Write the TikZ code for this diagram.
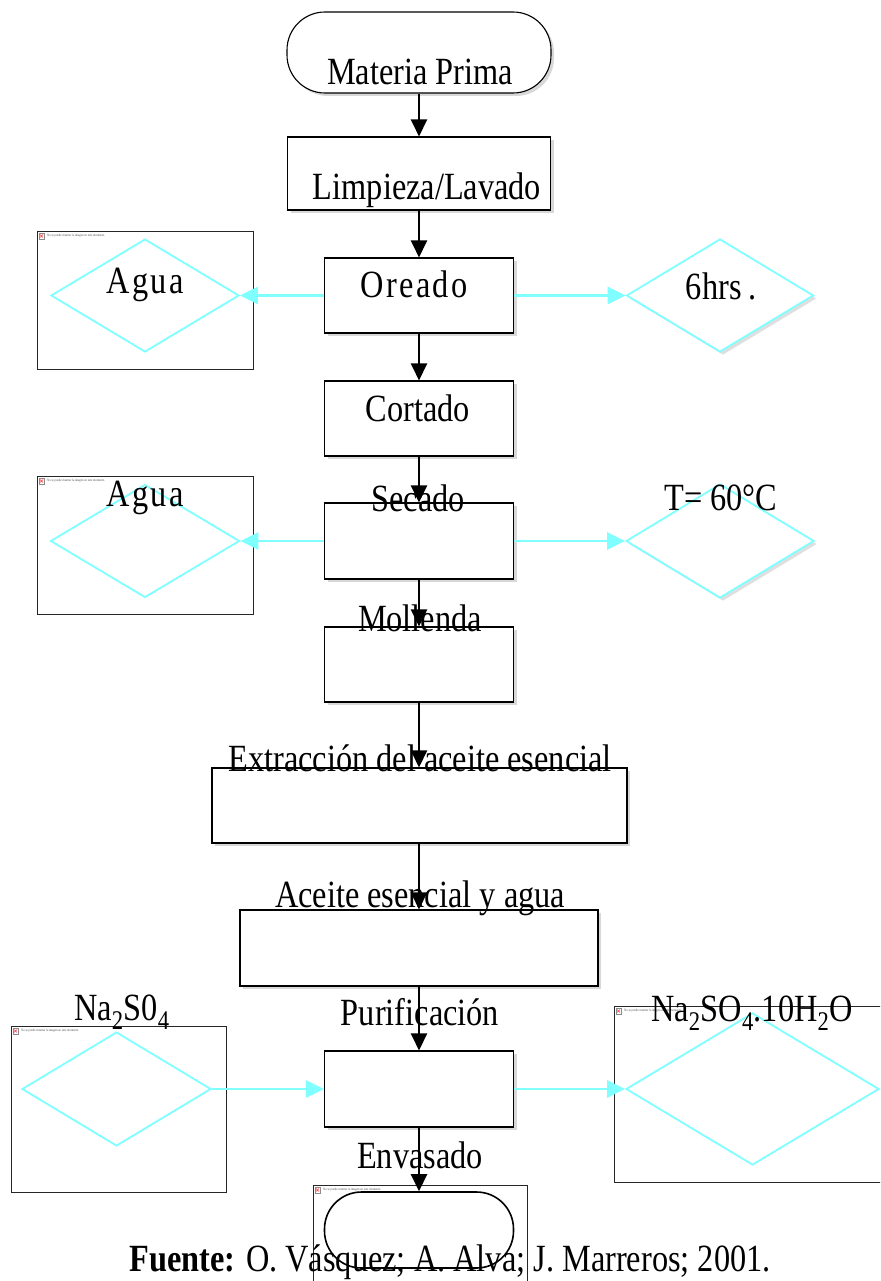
\documentclass[tikz,border=0pt]{standalone}
\usepackage{fontspec}
\setmainfont{Liberation Serif}[FakeStretch=0.84]
\usetikzlibrary{shapes.geometric,arrows.meta,shadows}
\definecolor{cy}{HTML}{7FFFFF}
\newcommand\phnote[3]{%
  \draw[black!45, line width=0.3pt, fill=white] (#2,#3) rectangle ++(5,6);
  \draw[red!80, line width=0.5pt] (#2+1,#3+1.5) -- ++(3,3) (#2+4,#3+1.5) -- ++(-3,3);
  \node[note] (#1) at (#2+8,#3+3) {No se puede mostrar la imagen en este momento.};}
\newcommand\spaced[1]{{\addfontfeature{LetterSpace=6}#1}}
\begin{document}
\begin{tikzpicture}[x=1pt,y=-1pt,
  lab/.style={font=\fontsize{38.5}{42}\selectfont, inner sep=0pt, anchor=center},
  box/.style={draw, line width=1.1pt, fill=white, inner sep=0pt,
    drop shadow={shadow xshift=3pt, shadow yshift=-3pt, opacity=0.3}},
  term/.style={box, rounded corners=38pt},
  ph/.style={draw=black!85, line width=0.8pt, inner sep=0pt},
  dia/.style={diamond, draw=cy, line width=1.8pt, fill=white, inner sep=0pt},
  diash/.style={dia, drop shadow={shadow xshift=3pt, shadow yshift=-3pt, opacity=0.25}},
  flow/.style={line width=2.4pt, -{Triangle[length=17pt,width=16pt]}},
  side/.style={draw=cy, line width=2.6pt, -{Triangle[length=18pt,width=17pt]}},
  note/.style={font=\fontsize{3.5}{4}\selectfont, text=black!70, anchor=west, inner sep=0pt}
]
\clip (0,0) rectangle (880,1281);
\useasboundingbox (0,0) rectangle (880,1281);
\fill[white] (0,0) rectangle (880,1281);

% image placeholders
\node[ph, minimum width=216pt, minimum height=138pt] (ph1) at (145,300) {};
\node[ph, minimum width=216pt, minimum height=138pt] (ph2) at (145,545) {};
\node[ph, minimum width=215pt, minimum height=166pt] (ph3) at (118.5,1109) {};
\node[ph, minimum width=286pt, minimum height=176pt] (ph4) at (757,1094) {};
\node[ph, minimum width=214pt, minimum height=115pt] (ph5) at (420,1242.5) {};
\phnote{n1}{39}{233}
\phnote{n2}{39}{478}
\phnote{n3}{13}{1028}
\phnote{n4}{616}{1008}
\phnote{n5}{315}{1187}

% diamonds
\node[dia, minimum width=188pt, minimum height=113pt] (d1) at (145,295.5) {};
\node[dia, minimum width=189pt, minimum height=113pt] (d2) at (145,541) {};
\node[diash, minimum width=187pt, minimum height=113pt] (d3) at (720,295.5) {};
\node[diash, minimum width=188pt, minimum height=114pt] (d4) at (720,541) {};
\node[dia, minimum width=189pt, minimum height=114pt] (d5) at (116.5,1089) {};
\node[dia, minimum width=253pt, minimum height=152pt] (d6) at (752.5,1089) {};

% process boxes
\node[term, minimum width=264pt, minimum height=81pt] (mp) at (419,52.5) {};
\node[box, minimum width=263pt, minimum height=73pt] (limp) at (419,173.5) {};
\node[box, minimum width=189pt, minimum height=75pt] (ore) at (419,295.5) {};
\node[box, minimum width=189pt, minimum height=75pt] (cort) at (419,418.5) {};
\node[box, minimum width=189pt, minimum height=76pt] (sec) at (419,541) {};
\node[box, minimum width=189pt, minimum height=75pt] (mol) at (419,664.5) {};
\node[box, minimum width=415pt, minimum height=75pt] (ext) at (419.5,805.5) {};
\node[box, minimum width=358pt, minimum height=76pt] (ace) at (419,948) {};
\node[box, minimum width=189pt, minimum height=76pt] (puri) at (419,1089) {};
\node[draw, line width=1.6pt, rounded corners=37pt, inner sep=0pt, minimum width=189pt, minimum height=76pt] (env) at (419,1230) {};

% texts
\node[lab] (tmp) at (420,72) {Materia Prima};
\node[lab] (tlimp) at (427,190) {Limpieza/Lavado};
\node[lab] (tore) at (414,284) {\spaced{Oreado}};
\node[lab] (tcort) at (418,408) {Cortado};
\node[lab] (tsec) at (418,498) {Secado};
\node[lab] (tmol) at (420,618) {Mollenda};
\node[lab] (text) at (420,758) {Extracción del aceite esencial};
\node[lab] (tace) at (420,898) {Aceite esencial y agua};
\node[lab] (tpuri) at (420,1012) {Purificación};
\node[lab] (tenv) at (420,1155) {Envasado};
\node[lab] (ta1) at (145,285) {\spaced{Agua}};
\node[lab] (ta2) at (145,498) {\spaced{Agua}};
\node[lab] (t6h) at (721,286) {6hrs\,.};
\node[lab] (tT) at (721,498) {T= 60°C};
\node[lab] (tna) at (122,1012) {Na\textsubscript{2}S0\textsubscript{4}};
\node[lab] (tna2) at (752,1013) {Na\textsubscript{2}SO\textsubscript{4}.10H\textsubscript{2}O};
\node[lab, anchor=base] (src) at (450,1271) {\textbf{Fuente:} O. Vásquez; A. Alva; J. Marreros; 2001.};

% main flow
\draw[flow] (mp.south) -- (limp.north);
\draw[flow] (limp.south) -- (ore.north);
\draw[flow] (ore.south) -- (cort.north);
\draw[flow] (cort.south) -- (sec.north);
\draw[flow] (sec.south) -- (mol.north);
\draw[flow] (mol.south) -- (ext.north -| mol.south);
\draw[flow] (ext.south -| mol.south) -- (ace.north -| mol.south);
\draw[flow] (ace.south -| mol.south) -- (puri.north);
\draw[flow] (puri.south) -- (env.north);

% side flows
\draw[side] (ore.west) -- (d1.east);
\draw[side] (ore.east) -- (d3.west);
\draw[side] (sec.west) -- (d2.east);
\draw[side] (sec.east) -- (d4.west);
\draw[side] (d5.east) -- (puri.west);
\draw[side] (puri.east) -- (d6.west);
\end{tikzpicture}
\end{document}
